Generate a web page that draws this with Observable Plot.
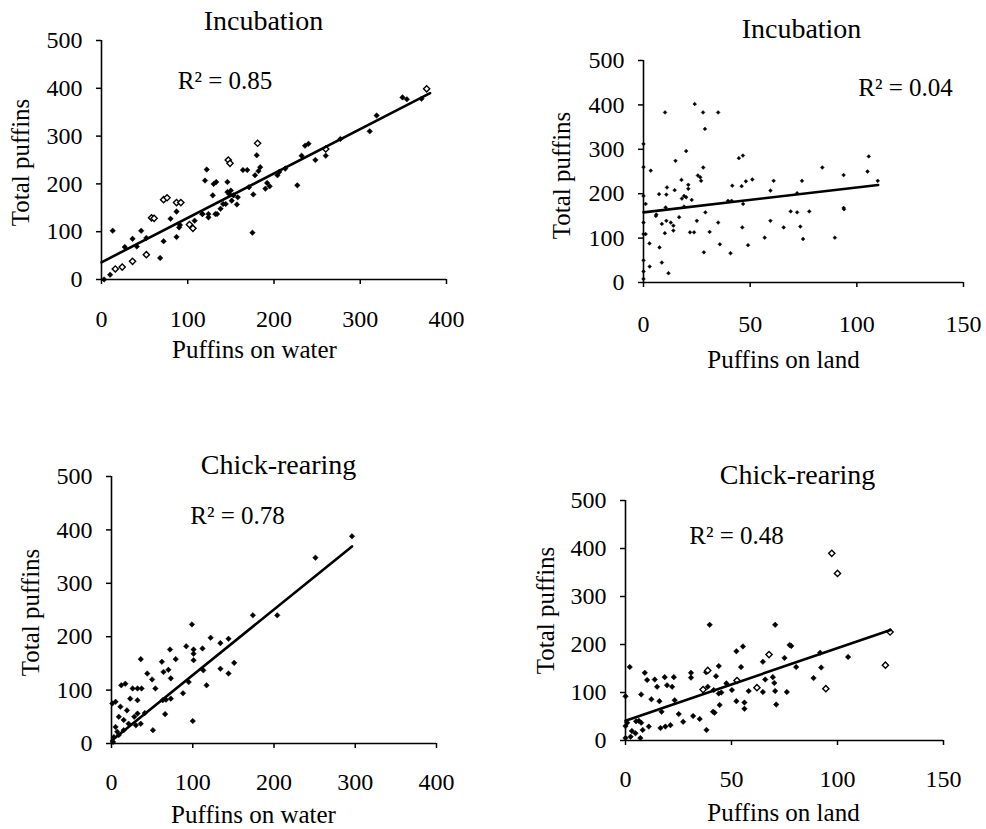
<!DOCTYPE html>
<html><head><meta charset="utf-8">
<script src="https://cdn.jsdelivr.net/npm/d3@7"></script>
<script src="https://cdn.jsdelivr.net/npm/@observablehq/plot@0.6"></script>
<style>
body{margin:0;background:#fff;}
#wrap{position:relative;width:986px;height:829px;overflow:hidden;background:#fff;}
.panel{position:absolute;}
.panel svg, .panel svg text{font-family:'Liberation Serif','Times New Roman',serif;}
</style></head><body><div id="wrap"></div>
<script>
// ---------- labels ----------
const titles = ["Incubation", "Incubation", "Chick-rearing", "Chick-rearing"];
const xLabels = ["Puffins on water", "Puffins on land", "Puffins on water", "Puffins on land"];
const yLabel = "Total puffins";
const r2Values = ["0.85", "0.04", "0.78", "0.48"];
const yTicks = [0, 100, 200, 300, 400, 500];
const xTicksWater = [0, 100, 200, 300, 400];
const xTicksLand = [0, 50, 100, 150];

// ---------- fitted lines (intercept, slope, x extent) ----------
const fitIntercept = [36, 158, 5, 41];
const fitSlope = [0.929, 0.56, 1.23, 1.515];
const fitXMax = [381, 110, 296, 125];

// ---------- Panel 1: Incubation, water ----------
const p1x = [13,10,27,36,41,46,52,68,72,80,87,87,91,90,108,117,120,122,124,129,130,133,134,138,141,144,146,148,150,146,151,153,157,158,164,169,171,176,175,180,178,182,184,190,192,195,204,206,213,227,232,236,240,248,260,277,311,319,349,354,371,3,117,124,132,103];
const p1y = [102,10,68,85,69,102,87,45,80,127,89,142,114,109,123,137,207,230,137,176,200,204,137,148,158,158,204,179,186,183,165,176,157,172,229,229,193,178,98,260,218,227,235,190,202,195,218,225,232,197,259,280,284,250,259,294,310,343,381,377,378,0,137,130,137,113];
const p1ox = [16,24,36,52,58,61,72,76,87,92,102,106,147,149,260,377,181];
const p1oy = [22,26,38,52,129,128,167,171,161,161,115,107,250,243,273,399,285];

// ---------- Panel 2: Incubation, land ----------
const p2x = [10.1,24,27.9,35,28.8,20,15,3.4,28,25.5,27,17.8,21,21,14.6,11,10.7,7.3,18,19,22.6,19,10.4,6,1,8.6,10.7,12.8,14,14,16.7,10,21.8,23.7,25,29,31,35,35.8,28.3,40.8,39.6,41.3,41.6,44.7,46.6,46,48,51,46.7,46.3,49,56.8,59.5,59.5,61,65.7,69,72,72,73.5,74.3,74.8,77.7,83.8,89.7,93.8,93.8,94,105,105.6,109.8,2.8,2.9,7.5,8.6,11.7,0,0,0,1,0,0,5.8,0,0,0,20,26.6];
const p2y = [383,402,383,383,346,296,274,252,259,241,229,231,220,211,208,214,198,199,189,195,186,171,169,153,177,132,139,135,128,117,147,111,113,113,139,158,114,135,86,68,66,184,184,218,280,286,217,228,232,177,124,84,101,207,139,229,124,160,201,158,126,229,98,160,259,101,242,168,165,250,284,229,88,36,79,45,21,50,25,109,109,8,135,150,312,260,195,192,237];

// ---------- Panel 3: Chick-rearing, water ----------
const p3x = [296,251,174,204,99,122,144,134,92,112,72,79,101,101,36,62,151,101,144,134,44,70,64,50,113,117,73,12,17,26,32,37,54,95,88,63,67,73,23,32,5,11,19,41,66,100,51,9,15,21,30,36,5,7,3,9,15,2,28,32,1];
const p3y = [388,348,240,240,223,198,196,188,182,178,176,158,176,168,158,153,151,156,131,140,131,138,134,120,137,109,122,109,112,103,103,103,103,115,94,81,82,84,84,81,78,69,62,57,55,42,25,50,44,37,34,37,31,22,12,16,25,3,50,56,75];

// ---------- Panel 4: Chick-rearing, land ----------
const p4x = [39.7,70.6,105,91.8,78.2,77.4,64.8,75,52.3,55.4,54.5,44,38,42.7,30.9,30.9,22.8,18.5,13.8,9.1,10.2,14.9,19.6,22,2,0,7.4,12.2,16,23.2,17,25.1,27.2,31.9,35,38.2,41.3,42,44.4,38.8,41.6,44,45.2,47.6,50.2,52.3,56.1,56.1,58.1,64.8,65.9,69.5,70.2,70.6,71.1,76.1,80.5,88.7,92.3,16.5,18.8,21.2,11,7.4,6.3,8.1,4.7,2.4,0,0.8,7,0,3,5];
const p4y = [241,241,174,183,197,199,164,172,186,196,153,155,142,134,141,131,132,132,127,141,126,112,115,112,153,92,96,86,82,84,60,55,39,51,45,22,60,58,74,112,105,98,100,119,105,82,79,66,103,101,127,132,120,103,75,101,153,130,152,26,29,32,29,37,41,22,15,8,5,37,5,30,20,40];
const p4ox = [97.3,100,124.8,122.6,67.7,38.8,36.6,52.6,62,94.5];
const p4oy = [390,348,226,157,179,146,106,125,110,108];

// ---------- build ----------
const wrap = document.getElementById("wrap");
const FONT = "'Liberation Serif','Times New Roman',serif";

function zip(xs, ys) { return xs.map((x, i) => ({x, y: ys[i]})); }

const panels = [
  {i:0, left:0,   top:0,   w:490, h:380, ml:101, mr:44, mt:40, mb:101, xDomain:[0,400], xTicks:xTicksWater,
   pts:zip(p1x,p1y), open:zip(p1ox,p1oy), r:2.5, xPad:25,
   title:{dx:-10.5, dy:-19}, r2:{dx:-49, dy:40}, xl:{dx:-19.5, dy:70}, yl:{dx:-81, dy:2.5}},
  {i:1, left:490, top:0,   w:496, h:380, ml:153, mr:23, mt:60, mb:98, xDomain:[0,150], xTicks:xTicksLand,
   pts:zip(p2x,p2y), open:[], r:1.7, xPad:27,
   title:{dx:-2, dy:-31}, r2:{dx:102, dy:27}, xl:{dx:-20, dy:77}, yl:{dx:-82, dy:4}},
  {i:2, left:0,   top:420, w:490, h:409, ml:111, mr:54, mt:56, mb:86, xDomain:[0,400], xTicks:xTicksWater,
   pts:zip(p3x,p3y), open:[], r:2.5, xPad:24,
   title:{dx:4.5, dy:-11}, r2:{dx:-36.5, dy:39}, xl:{dx:-20.5, dy:71}, yl:{dx:-81, dy:2.5}},
  {i:3, left:490, top:420, w:496, h:409, ml:135, mr:43, mt:80, mb:89, xDomain:[0,150], xTicks:xTicksLand,
   pts:zip(p4x,p4y), open:zip(p4ox,p4oy), r:2.5, xPad:24,
   title:{dx:13, dy:-25.5}, r2:{dx:-48, dy:35}, xl:{dx:-1, dy:72}, yl:{dx:-80, dy:-10}}
];

const txt = {fill: "black", fontFamily: FONT, textAnchor: "middle", lineAnchor: "middle"};

for (const p of panels) {
  const b = fitIntercept[p.i], m = fitSlope[p.i], xm = fitXMax[p.i];
  const fit = [{x:0, y:b}, {x:xm, y:b + m * xm}];
  const chart = Plot.plot({
    width: p.w, height: p.h,
    marginLeft: p.ml, marginRight: p.mr, marginTop: p.mt, marginBottom: p.mb,
    x: {domain: p.xDomain},
    y: {domain: [0, 500]},
    style: {fontFamily: FONT, fontSize: "24px", color: "black", background: "white", overflow: "visible"},
    marks: [
      Plot.ruleX([p.xDomain[0]], {stroke: "black", strokeWidth: 1.6}),
      Plot.ruleY([0], {stroke: "black", strokeWidth: 1.6}),
      Plot.axisX({ticks: p.xTicks, tickSize: 5, tickPadding: p.xPad, label: null, fontSize: 24, fontFamily: FONT, strokeWidth: 1.5}),
      Plot.axisY({ticks: yTicks, tickSize: 5, tickPadding: 14, label: null, fontSize: 24, fontFamily: FONT, strokeWidth: 1.5}),
      Plot.dot(p.pts, {x: "x", y: "y", symbol: "diamond2", r: p.r, fill: "black", stroke: "black", strokeWidth: 0.5}),
      Plot.dot(p.open, {x: "x", y: "y", symbol: "diamond2", r: p.r + 0.3, fill: "white", stroke: "black", strokeWidth: 1.4}),
      Plot.line(fit, {x: "x", y: "y", stroke: "black", strokeWidth: 2.6}),
      Plot.text([titles[p.i]], {...txt, text: d => d, frameAnchor: "top", dx: p.title.dx, dy: p.title.dy, fontSize: 28}),
      Plot.text(["R\u00B2 = " + r2Values[p.i]], {...txt, text: d => d, frameAnchor: "top", dx: p.r2.dx, dy: p.r2.dy, fontSize: 25}),
      Plot.text([xLabels[p.i]], {...txt, text: d => d, frameAnchor: "bottom", dx: p.xl.dx, dy: p.xl.dy, fontSize: 25}),
      Plot.text([yLabel], {...txt, text: d => d, frameAnchor: "left", rotate: -90, dx: p.yl.dx, dy: p.yl.dy, fontSize: 25})
    ]
  });
  const div = document.createElement("div");
  div.className = "panel";
  div.style.left = p.left + "px";
  div.style.top = p.top + "px";
  div.appendChild(chart);
  wrap.appendChild(div);
}
</script>
</body></html>
